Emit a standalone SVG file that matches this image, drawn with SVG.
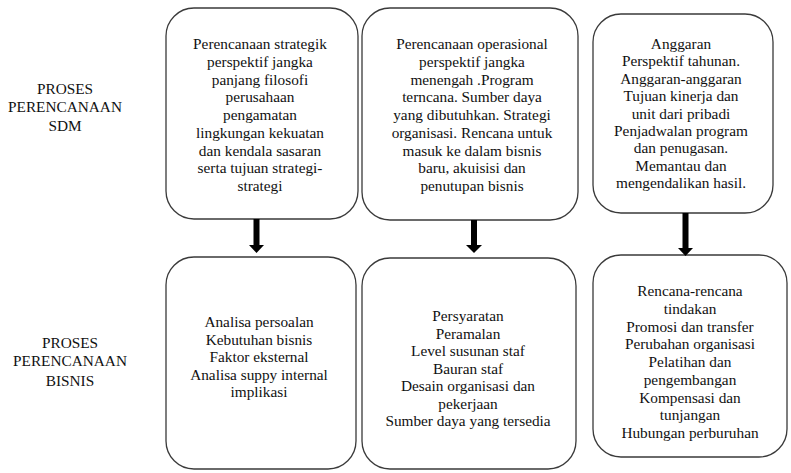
<svg xmlns="http://www.w3.org/2000/svg" width="791" height="473" viewBox="0 0 791 473">
<style>
.box{fill:#fff;stroke:#3a3a3a;stroke-width:1.3}
.t text{font-size:15.3px;fill:#111;text-anchor:middle}
.arr{fill:#000}
</style>
<rect width="791" height="473" fill="#fff"/>
<g class="t" font-family="Liberation Serif, DejaVu Serif, serif">
<g id="label-sdm">
<text x="65" y="94">PROSES</text>
<text x="65" y="112">PERENCANAAN</text>
<text x="65" y="131">SDM</text>
</g>
<g id="label-bisnis">
<text x="70" y="348">PROSES</text>
<text x="70" y="366">PERENCANAAN</text>
<text x="70" y="386">BISNIS</text>
</g>
<g id="node-strategik">
<rect class="box" x="166" y="8" width="192" height="211" rx="28"/>
<text x="260" y="49">Perencanaan strategik</text>
<text x="260" y="67">perspektif jangka</text>
<text x="260" y="85">panjang filosofi</text>
<text x="260" y="102">perusahaan</text>
<text x="260" y="120">pengamatan</text>
<text x="260" y="138">lingkungan kekuatan</text>
<text x="260" y="156">dan kendala sasaran</text>
<text x="260" y="173">serta tujuan strategi-</text>
<text x="260" y="191">strategi</text>
</g>
<g id="node-operasional">
<rect class="box" x="362" y="8" width="216" height="212" rx="28"/>
<text x="472" y="49">Perencanaan operasional</text>
<text x="472" y="67">perspektif jangka</text>
<text x="472" y="85">menengah .Program</text>
<text x="472" y="102">terncana. Sumber daya</text>
<text x="472" y="120">yang dibutuhkan. Strategi</text>
<text x="472" y="138">organisasi. Rencana untuk</text>
<text x="472" y="156">masuk ke dalam bisnis</text>
<text x="472" y="173">baru, akuisisi dan</text>
<text x="472" y="191">penutupan bisnis</text>
</g>
<g id="node-anggaran">
<rect class="box" x="593" y="14" width="180" height="199" rx="28"/>
<text x="681" y="49">Anggaran</text>
<text x="681" y="66">Perspektif tahunan.</text>
<text x="681" y="84">Anggaran-anggaran</text>
<text x="681" y="101">Tujuan kinerja dan</text>
<text x="681" y="119">unit dari pribadi</text>
<text x="681" y="136">Penjadwalan program</text>
<text x="681" y="153">dan penugasan.</text>
<text x="681" y="171">Memantau dan</text>
<text x="681" y="188">mengendalikan hasil.</text>
</g>
<g id="node-analisa">
<rect class="box" x="166" y="257" width="190" height="212" rx="28"/>
<text x="259" y="327">Analisa persoalan</text>
<text x="259" y="345">Kebutuhan bisnis</text>
<text x="259" y="362">Faktor eksternal</text>
<text x="259" y="380">Analisa suppy internal</text>
<text x="259" y="397">implikasi</text>
</g>
<g id="node-persyaratan">
<rect class="box" x="362" y="258" width="214" height="211" rx="28"/>
<text x="468" y="321">Persyaratan</text>
<text x="468" y="339">Peramalan</text>
<text x="468" y="356">Level susunan staf</text>
<text x="468" y="374">Bauran staf</text>
<text x="468" y="391">Desain organisasi dan</text>
<text x="468" y="409">pekerjaan</text>
<text x="468" y="426">Sumber daya yang tersedia</text>
</g>
<g id="node-rencana">
<rect class="box" x="593" y="255" width="194" height="202" rx="28"/>
<text x="690" y="296">Rencana-rencana</text>
<text x="690" y="314">tindakan</text>
<text x="690" y="332">Promosi dan transfer</text>
<text x="690" y="349">Perubahan organisasi</text>
<text x="690" y="367">Pelatihan dan</text>
<text x="690" y="385">pengembangan</text>
<text x="690" y="403">Kompensasi dan</text>
<text x="690" y="420">tunjangan</text>
<text x="690" y="438">Hubungan perburuhan</text>
</g>
</g>
<g id="connectors">
<path class="arr" d="M253.5 219 H259.5 V245 H264 L256.5 253 L249 245 H253.5 Z"/>
<path class="arr" d="M471 220 H477 V245 H482 L474 253 L466 245 H471 Z"/>
<path class="arr" d="M682.5 213 H688.5 V248 H693 L685.5 256 L678 248 H682.5 Z"/>
</g>
</svg>
